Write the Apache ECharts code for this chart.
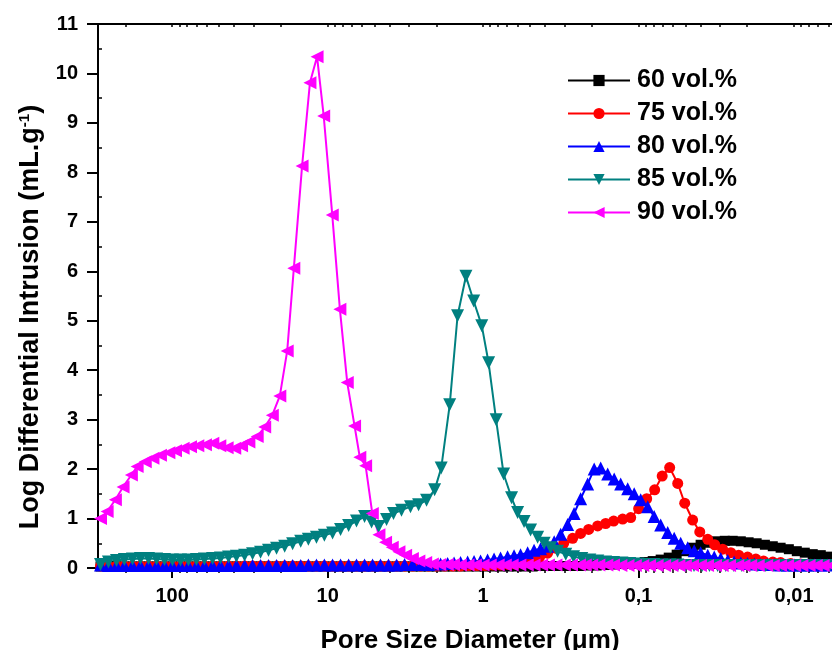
<!DOCTYPE html>
<html>
<head>
<meta charset="utf-8">
<title>Pore size distribution</title>
<script src="https://cdn.jsdelivr.net/npm/echarts@6.0.0/dist/echarts.min.js"></script>
<style>
html, body { margin: 0; padding: 0; background: #fff; }
#chart { width: 832px; height: 650px; }
</style>
</head>
<body>
<div id="chart"></div>
<script>
// pore diameter (um) and log differential intrusion (mL/g)
var d60 = [289, 257, 228, 203, 180, 160, 142, 126, 112, 99.6,
    88.4, 78.6, 69.8, 62.0, 55.0, 48.9, 43.4, 38.6, 34.2, 30.4,
    27.0, 24.0, 21.3, 18.9, 16.8, 14.9, 13.3, 11.8, 10.5, 9.30,
    8.26, 7.33, 6.52, 5.79, 5.14, 4.57, 4.06, 3.60, 3.20, 2.84,
    2.52, 2.24, 1.99, 1.77, 1.57, 1.40, 1.24, 1.10, 0.978, 0.869,
    0.772, 0.686, 0.609, 0.541, 0.480, 0.427, 0.379, 0.337, 0.299, 0.2655,
    0.236, 0.2095, 0.186, 0.1652, 0.1468, 0.1303, 0.1158, 0.1028, 0.0914, 0.0811,
    0.0721, 0.0640, 0.0569, 0.0505, 0.0449, 0.0399, 0.0354, 0.0314, 0.0279, 0.0248,
    0.0220, 0.0196, 0.0174, 0.0154, 0.0137, 0.0122, 0.0108, 0.0096, 0.00853, 0.00758,
    0.00673, 0.00598];
var v60 = [0.03, 0.03, 0.03, 0.03, 0.03, 0.03, 0.03, 0.03, 0.03, 0.03,
    0.03, 0.03, 0.03, 0.03, 0.03, 0.03, 0.03, 0.03, 0.03, 0.03,
    0.03, 0.03, 0.03, 0.03, 0.03, 0.03, 0.03, 0.03, 0.03, 0.03,
    0.03, 0.03, 0.03, 0.03, 0.03, 0.03, 0.03, 0.03, 0.03, 0.03,
    0.03, 0.03, 0.03, 0.03, 0.03, 0.03, 0.03, 0.03, 0.03, 0.03,
    0.03, 0.03, 0.03, 0.03, 0.03, 0.04, 0.04, 0.04, 0.04, 0.04,
    0.04, 0.05, 0.05, 0.06, 0.07, 0.08, 0.09, 0.10, 0.12, 0.14,
    0.17, 0.21, 0.27, 0.34, 0.41, 0.47, 0.51, 0.54, 0.55, 0.55,
    0.54, 0.52, 0.50, 0.47, 0.44, 0.41, 0.38, 0.34, 0.31, 0.28,
    0.26, 0.23];

var d75 = [289, 257, 228, 203, 180, 160, 142, 126, 112, 99.6,
    88.4, 78.6, 69.8, 62.0, 55.0, 48.9, 43.4, 38.6, 34.2, 30.4,
    27.0, 24.0, 21.3, 18.9, 16.8, 14.9, 13.3, 11.8, 10.5, 9.30,
    8.26, 7.33, 6.52, 5.79, 5.14, 4.57, 4.06, 3.60, 3.20, 2.84,
    2.52, 2.24, 1.99, 1.77, 1.57, 1.40, 1.24, 1.10, 0.978, 0.869,
    0.772, 0.686,
    0.618, 0.549, 0.487, 0.433, 0.385, 0.342, 0.303, 0.2655, 0.236, 0.2095,
    0.1833, 0.1628, 0.1446, 0.1266, 0.1124, 0.0999, 0.0887, 0.0788, 0.0705, 0.0631,
    0.0560, 0.0505, 0.0449, 0.0404, 0.0359, 0.0324, 0.0288, 0.0255, 0.0227, 0.0199,
    0.0176, 0.0157, 0.0137, 0.0122, 0.0105, 0.00906, 0.00781, 0.00673, 0.00580];
var v75 = [0.04, 0.04, 0.04, 0.04, 0.04, 0.04, 0.04, 0.04, 0.04, 0.04,
    0.04, 0.04, 0.04, 0.04, 0.04, 0.04, 0.04, 0.04, 0.04, 0.04,
    0.04, 0.04, 0.04, 0.04, 0.04, 0.04, 0.04, 0.04, 0.04, 0.04,
    0.04, 0.04, 0.04, 0.04, 0.04, 0.04, 0.04, 0.04, 0.04, 0.04,
    0.04, 0.04, 0.04, 0.04, 0.04, 0.04, 0.05, 0.05, 0.05, 0.06,
    0.06, 0.07,
    0.08, 0.11, 0.15, 0.22, 0.30, 0.40, 0.50, 0.60, 0.70, 0.78,
    0.85, 0.90, 0.95, 0.99, 1.02, 1.20, 1.40, 1.58, 1.86, 2.03,
    1.71, 1.31, 0.97, 0.73, 0.58, 0.47, 0.38, 0.31, 0.26, 0.22,
    0.18, 0.14, 0.12, 0.11, 0.09, 0.08, 0.075, 0.07, 0.06];

var d80 = [289, 257, 228, 203, 180, 160, 142, 126, 112, 99.6,
    88.4, 78.6, 69.8, 62.0, 55.0, 48.9, 43.4, 38.6, 34.2, 30.4,
    27.0, 24.0, 21.3, 18.9, 16.8, 14.9, 13.3, 11.8, 10.5, 9.30,
    8.26, 7.33, 6.52, 5.79, 5.14, 4.57, 4.06, 3.60, 3.20, 2.84,
    2.52, 2.24,
    1.877, 1.692, 1.537, 1.396, 1.258, 1.143, 1.038, 0.936, 0.850, 0.772,
    0.696, 0.632, 0.574, 0.517, 0.470, 0.427, 0.385, 0.349, 0.317, 0.286,
    0.260, 0.236, 0.2126, 0.193, 0.1753, 0.158, 0.1435, 0.1303, 0.1175, 0.1067,
    0.0969, 0.0874, 0.0794, 0.0721, 0.0650, 0.0590, 0.0536, 0.0483, 0.0439, 0.0399,
    0.0359, 0.0326, 0.0296, 0.0267, 0.0243, 0.0220, 0.0199, 0.0180, 0.0164, 0.0148,
    0.0134, 0.0122, 0.0110, 0.00997, 0.00906, 0.00816, 0.00741, 0.00673, 0.00607];
var v80 = [0.06, 0.05, 0.05, 0.05, 0.05, 0.05, 0.05, 0.05, 0.05, 0.05,
    0.05, 0.05, 0.05, 0.05, 0.05, 0.05, 0.05, 0.05, 0.05, 0.05,
    0.05, 0.05, 0.05, 0.05, 0.05, 0.05, 0.06, 0.06, 0.06, 0.06,
    0.06, 0.06, 0.06, 0.06, 0.06, 0.06, 0.06, 0.06, 0.07, 0.07,
    0.07, 0.07,
    0.08, 0.09, 0.10, 0.11, 0.12, 0.13, 0.14, 0.16, 0.18, 0.20,
    0.23, 0.25, 0.27, 0.31, 0.36, 0.39, 0.44, 0.53, 0.68, 0.88,
    1.10, 1.40, 1.70, 2.00, 2.02, 1.90, 1.80, 1.70, 1.60, 1.50,
    1.38, 1.24, 1.04, 0.87, 0.72, 0.60, 0.50, 0.41, 0.35, 0.31,
    0.26, 0.22, 0.19, 0.15, 0.12, 0.10, 0.09, 0.08, 0.07, 0.07,
    0.07, 0.06, 0.06, 0.06, 0.06, 0.06, 0.06, 0.06, 0.06];

var d85 = [289, 257, 228, 203, 180, 160, 142, 126, 112, 99.6,
    88.4, 78.6, 69.8, 62.0, 55.0, 48.9, 43.4, 38.6, 34.2, 30.4,
    27.0, 24.0, 21.3, 18.9, 16.8, 14.9, 13.3, 11.8, 10.5, 9.30,
    8.26, 7.33, 6.52, 5.79,
    5.22, 4.70, 4.18, 3.77, 3.35, 2.93, 2.60, 2.31, 2.05,
    1.86, 1.64, 1.46, 1.29, 1.15, 1.02, 0.922, 0.825, 0.738, 0.656,
    0.600, 0.545, 0.495, 0.446, 0.405, 0.368, 0.332, 0.294, 0.262, 0.232,
    0.206, 0.183, 0.163, 0.145, 0.128, 0.114, 0.101, 0.090, 0.080, 0.071,
    0.063, 0.056, 0.050, 0.044, 0.039, 0.035, 0.031, 0.0275, 0.0244, 0.0217,
    0.0193, 0.0171, 0.0152, 0.0135, 0.0120, 0.0107, 0.0095, 0.0084, 0.0075, 0.0066,
    0.0059];
var v85 = [0.07, 0.12, 0.15, 0.17, 0.18, 0.19, 0.19, 0.18, 0.17, 0.16,
    0.16, 0.16, 0.17, 0.18, 0.19, 0.20, 0.22, 0.24, 0.26, 0.29,
    0.32, 0.36, 0.40, 0.44, 0.49, 0.54, 0.58, 0.62, 0.66, 0.71,
    0.78, 0.86, 0.95, 1.04,
    0.93, 0.84, 0.98, 1.10, 1.17, 1.24, 1.28, 1.37, 1.58,
    2.02, 3.30, 5.10, 5.90, 5.40, 4.90, 4.15, 3.00, 1.90, 1.42,
    1.12, 0.94, 0.77, 0.62, 0.50, 0.41, 0.34, 0.28, 0.23, 0.19,
    0.16, 0.14, 0.12, 0.11, 0.10, 0.09, 0.08, 0.07, 0.07, 0.06,
    0.06, 0.06, 0.05, 0.05, 0.05, 0.05, 0.05, 0.05, 0.05, 0.05,
    0.05, 0.05, 0.05, 0.05, 0.05, 0.05, 0.05, 0.05, 0.05, 0.05,
    0.05];

var d90 = [289, 262, 232, 207, 183, 168, 149, 133, 119, 105,
    95.2, 85.0, 76.2, 68.4, 61.1, 54.8, 49.4, 44.3, 39.6, 35.8,
    32.1, 28.4, 25.4, 22.7, 20.3, 18.2, 16.5, 14.6, 13.0, 11.7,
    10.6, 9.34, 8.34, 7.48, 6.71, 6.21, 5.70, 5.16, 4.68, 4.24,
    3.84, 3.48, 3.15, 2.85, 2.59, 2.34, 2.12,
    1.9, 1.7, 1.55, 1.4, 1.25, 1.12, 1.0, 0.9, 0.8, 0.72,
    0.65, 0.58, 0.52, 0.47, 0.42, 0.38, 0.34, 0.3, 0.27, 0.24,
    0.22, 0.2, 0.18, 0.16, 0.145, 0.13, 0.117, 0.105, 0.094, 0.085,
    0.076, 0.068, 0.061, 0.055, 0.05, 0.045, 0.04, 0.036, 0.032, 0.029,
    0.026, 0.023, 0.021, 0.019, 0.017, 0.015, 0.0136, 0.0122, 0.011, 0.0099,
    0.0089, 0.008, 0.0072, 0.0065, 0.0058];
var v90 = [1.00, 1.14, 1.38, 1.64, 1.88, 2.05, 2.15, 2.22, 2.28, 2.33,
    2.37, 2.42, 2.45, 2.47, 2.49, 2.52, 2.47, 2.43, 2.42, 2.47,
    2.55, 2.66, 2.85, 3.09, 3.48, 4.39, 6.06, 8.13, 9.81, 10.34,
    9.14, 7.14, 5.23, 3.75, 2.87, 2.24, 2.07, 1.10, 0.67, 0.52,
    0.42, 0.33, 0.26, 0.19, 0.14, 0.11, 0.08,
    0.07, 0.07, 0.07, 0.06, 0.06, 0.06, 0.06, 0.06, 0.06, 0.06,
    0.06, 0.06, 0.06, 0.06, 0.06, 0.06, 0.06, 0.06, 0.06, 0.06,
    0.06, 0.06, 0.06, 0.06, 0.06, 0.05, 0.05, 0.05, 0.05, 0.05,
    0.05, 0.05, 0.05, 0.05, 0.05, 0.05, 0.05, 0.05, 0.05, 0.05,
    0.05, 0.05, 0.05, 0.05, 0.05, 0.05, 0.05, 0.05, 0.05, 0.05,
    0.05, 0.05, 0.05, 0.05, 0.05];

var names = ['60 vol.%', '75 vol.%', '80 vol.%', '85 vol.%', '90 vol.%'];
var xMajorTicks = [100, 10, 1, 0.1, 0.01];
var xMinorTicks = [200, 90, 80, 70, 60, 50, 40, 30, 20,
    9, 8, 7, 6, 5, 4, 3, 2,
    0.9, 0.8, 0.7, 0.6, 0.5, 0.4, 0.3, 0.2,
    0.09, 0.08, 0.07, 0.06, 0.05, 0.04, 0.03, 0.02,
    0.009, 0.008, 0.007, 0.006];
var yMinorTicks = [0.5, 1.5, 2.5, 3.5, 4.5, 5.5, 6.5, 7.5, 8.5, 9.5, 10.5];

function pairs(d, v) {
    return d.map(function (x, i) { return [x, v[i]]; });
}

var font = "'Liberation Sans', Arial, sans-serif";
var xMin = 0.0057, xMax = 300;

var chart = echarts.init(document.getElementById('chart'));

function lineSeries(name, data, color, symbol, size, rotate) {
    return {
        name: name,
        type: 'line',
        xAxisIndex: 0,
        yAxisIndex: 0,
        data: data,
        symbol: symbol,
        symbolSize: size,
        symbolRotate: rotate,
        showAllSymbol: true,
        itemStyle: { color: color },
        lineStyle: { color: color, width: 2 },
        emphasis: { disabled: true }
    };
}

var option = {
    animation: false,
    backgroundColor: '#fff',
    grid: [
        { left: 98, top: 24, right: 0, bottom: 82, containLabel: false, outerBoundsMode: 'none' },
        { left: 98, top: 24, right: 0, bottom: 82, containLabel: false, outerBoundsMode: 'none' }
    ],
    legend: {
        data: names,
        orient: 'vertical',
        left: 567,
        top: 68,
        padding: 0,
        itemWidth: 62,
        itemHeight: 14,
        itemGap: 8,
        textStyle: { fontFamily: font, fontSize: 25, fontWeight: 'bold', color: '#000', padding: [0, 0, 0, 2] }
    },
    xAxis: [
        {
            gridIndex: 0, type: 'log', min: xMin, max: xMax, inverse: true, position: 'bottom',
            name: 'Pore Size Diameter (μm)', nameLocation: 'middle', nameGap: 60,
            nameTextStyle: { fontFamily: font, fontSize: 26, fontWeight: 'bold', color: '#000', padding: [0, 0, 0, 10] },
            axisLine: { show: true, onZero: false, lineStyle: { color: '#000', width: 2 } },
            axisTick: { show: true, customValues: xMajorTicks, length: 10, lineStyle: { color: '#000', width: 2 } },
            axisLabel: {
                show: true, customValues: xMajorTicks, margin: 18,
                fontFamily: font, fontSize: 20, fontWeight: 'bold', color: '#000',
                formatter: function (v) { return String(v).replace('.', ','); }
            },
            splitLine: { show: false }, minorTick: { show: false }
        },
        {
            gridIndex: 0, type: 'log', min: xMin, max: xMax, inverse: true, position: 'top',
            axisLine: { show: true, onZero: false, lineStyle: { color: '#000', width: 2 } },
            axisTick: { show: true, inside: true, customValues: xMajorTicks.concat(xMinorTicks), length: 3, lineStyle: { color: '#000', width: 1.5 } },
            axisLabel: { show: false },
            splitLine: { show: false }
        },
        {
            gridIndex: 1, type: 'log', min: xMin, max: xMax, inverse: true, position: 'bottom',
            axisLine: { show: false },
            axisTick: { show: true, customValues: xMinorTicks, length: 5, lineStyle: { color: '#000', width: 1.5 } },
            axisLabel: { show: false },
            splitLine: { show: false }
        }
    ],
    yAxis: [
        {
            gridIndex: 0, type: 'value', min: 0, max: 11, interval: 1, position: 'left',
            name: 'Log Differential Intrusion (mL.g{sup|-1})', nameLocation: 'middle', nameGap: 54,
            nameTextStyle: {
                fontFamily: font, fontSize: 27, fontWeight: 'bold', color: '#000', padding: [0, 42, 0, 0],
                rich: { sup: { fontFamily: font, fontSize: 15, fontWeight: 'bold', color: '#000', verticalAlign: 'top' } }
            },
            axisLine: { show: true, onZero: false, lineStyle: { color: '#000', width: 2 } },
            axisTick: { show: true, length: 11, lineStyle: { color: '#000', width: 2 } },
            axisLabel: { show: true, margin: 20, fontFamily: font, fontSize: 20, fontWeight: 'bold', color: '#000' },
            splitLine: { show: false }
        },
        {
            gridIndex: 1, type: 'value', min: 0, max: 11, interval: 1, position: 'left',
            axisLine: { show: false },
            axisTick: { show: true, inside: true, customValues: yMinorTicks, length: 4, lineStyle: { color: '#000', width: 1.5 } },
            axisLabel: { show: false },
            splitLine: { show: false }
        }
    ],
    series: [
        lineSeries(names[0], pairs(d60, v60), '#000000', 'rect', 10, 0),
        lineSeries(names[1], pairs(d75, v75), '#ff0000', 'circle', 11, 0),
        lineSeries(names[2], pairs(d80, v80), '#0000ff', 'triangle', 13, 0),
        lineSeries(names[3], pairs(d85, v85), '#008080', 'triangle', 13, 180),
        lineSeries(names[4], pairs(d90, v90), '#ff00ff', 'triangle', 13, 90)
    ]
};
chart.setOption(option);
</script>
</body>
</html>
